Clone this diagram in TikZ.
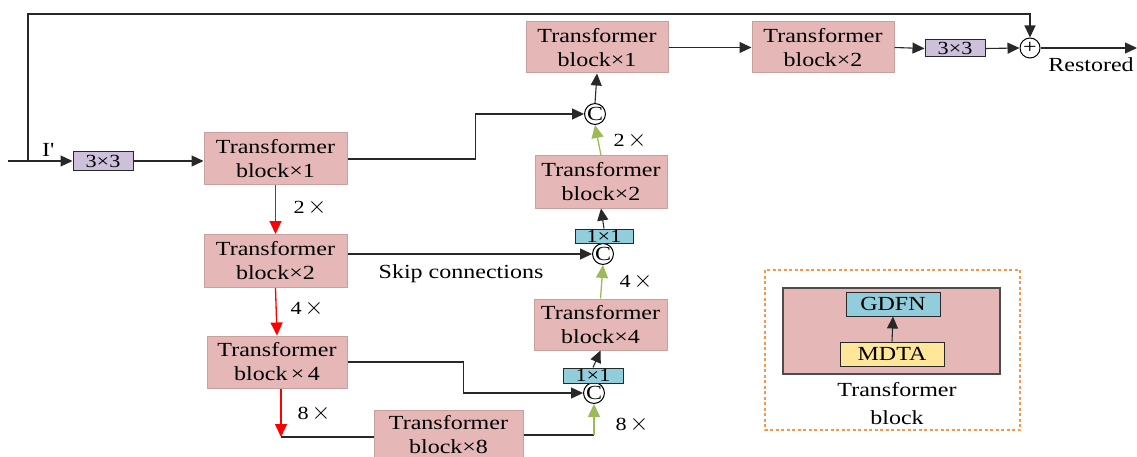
\documentclass[tikz,border=0pt]{standalone}
\usepackage{fontspec}
\setmainfont{Liberation Serif}[FakeStretch=1.2]
\usetikzlibrary{arrows.meta,calc}
\definecolor{pinkc}{RGB}{229,184,183}
\definecolor{pinkd}{RGB}{200,160,158}
\definecolor{bluec}{RGB}{146,205,220}
\definecolor{yelc}{RGB}{255,230,153}
\definecolor{lavc}{RGB}{204,192,218}
\definecolor{greenc}{RGB}{155,187,89}
\definecolor{orangec}{RGB}{247,150,70}
\definecolor{linec}{RGB}{40,40,40}
\newcommand\fbig{\fontsize{20}{24}\selectfont}
\newcommand\fsm{\fontsize{18.5}{20}\selectfont}
\newcommand\fcc{\fontsize{20}{20}\selectfont}
\newcommand\bigx{\,\scalebox{1.4}{$\times$}}
\begin{document}
\begin{tikzpicture}[x=1pt,y=-1pt,
  line width=1.1pt,
  tb/.style={rectangle, fill=pinkc, draw=pinkd, line width=1pt, align=center, font=\fbig, inner sep=0pt, minimum width=143pt, minimum height=52pt},
  kbox/.style={rectangle, fill=lavc, draw=linec, line width=1pt, font=\fsm, inner sep=0pt, minimum width=60pt, minimum height=19pt},
  obox/.style={rectangle, fill=bluec, draw=linec, line width=1pt, font=\fsm, inner sep=0pt, minimum width=58pt, minimum height=14pt},
  cc/.style={circle, draw=black, fill=white, line width=1pt, inner sep=0pt, minimum size=18pt, font=\fcc},
  arr/.style={draw=linec, -{Triangle[length=12pt,width=11pt]}},
  rarr/.style={draw=red, line width=1.3pt, -{Triangle[length=13pt,width=12pt]}},
  garr/.style={draw=greenc, line width=1.3pt, -{Triangle[length=13pt,width=12pt]}},
  lbl/.style={font=\fbig, inner sep=0pt},
  xl/.style={font=\fsm, inner sep=0pt},
]
\useasboundingbox (0,0) rectangle (1137,457);

% nodes
\coordinate (in) at (8,161);
\coordinate (sk0) at (28,161);
\coordinate (sk1) at (28,14);
\node[kbox] (k1) at (103,161) {3×3};
\node[tb] (tb1) at (275.5,159) {Transformer\\block×1};
\node[tb, minimum height=53pt] (tb2) at (275.5,261) {Transformer\\block×2};
\node[tb, minimum width=140pt] (tb4) at (277,362) {Transformer\\block\,×\,4};
\node[tb, minimum width=149pt, minimum height=50pt] (tb8) at (448.5,435) {Transformer\\block×8};
\node[tb, minimum width=133pt, minimum height=51pt] (tb4u) at (600.5,324.5) {Transformer\\block×4};
\node[tb, minimum width=132pt] (tb2u) at (601,182) {Transformer\\block×2};
\node[tb, minimum width=142pt, minimum height=51pt] (tbu1) at (597,47.5) {Transformer\\block×1};
\node[tb, minimum width=142pt, minimum height=51pt] (tbo2) at (823,47.5) {Transformer\\block×2};
\node[kbox, minimum height=17pt] (k2) at (955,48.5) {3×3};
\node[cc, minimum size=20pt] (plus) at (1030,48) {+};
\coordinate (out) at (1137,48);
\node[cc] (c1) at (595,114) {C};
\node[cc] (c2) at (603,254) {C};
\node[cc] (c3) at (594,393) {C};
\node[obox] (o1) at (604,236) {1×1};
\node[obox, minimum width=60pt, minimum height=15pt] (o2) at (593,375.5) {1×1};
\coordinate (r8) at (281,437);

% connectors
\draw[arr] (in) -- (k1.west);
\draw[arr] (k1) -- (tb1.west |- k1);
\draw[arr] (sk0) -- (sk1) -| (plus.north);
\draw[arr] (tb1.east) -- ++(128,0) |- (c1.west);
\draw[arr] (c1.north) -- (tbu1.south);
\draw[garr] (tb2u.north) -- (c1.south);
\draw[arr] (o1.north) -- (tb2u.south);
\draw[arr] (tb2.east |- c2.west) -- (c2.west);
\draw[garr] (tb4u.north) -- (c2.south);
\draw[arr] (o2.north) -- (tb4u.south);
\draw[arr] (tb4.east) -- ++(116,0) |- (c3.west);
\draw[draw=linec] (tb8.east) -- (c3.south |- tb8.east);
\draw[garr] (c3.south |- tb8.east) -- (c3.south);
\draw[rarr] (tb1.south) -- (tb2.north);
\draw[rarr] (tb2.south) -- (tb4.north);
\draw[rarr] (tb4.south -| r8) -- (r8);
\draw[draw=linec] (r8) -- (tb8.west |- r8);
\draw[arr] (tbu1.east) -- (tbo2.west);
\draw[arr] (tbo2.east) -- (k2.west);
\draw[arr] (k2.east) -- (plus.west);
\draw[arr] (plus.east) -- (out);

% labels
\node[lbl] (li) at (48,150) {I\textquotesingle};
\node[xl] (l2a) at (310,207) {2\bigx};
\node[xl] (l4a) at (307,308) {4\bigx};
\node[xl] (l8a) at (314,413) {8\bigx};
\node[xl] (l2b) at (630,140) {2\bigx};
\node[xl] (l4b) at (636,281) {4\bigx};
\node[xl] (l8b) at (632,424) {8\bigx};
\node[lbl] (skip) at (461,274) {Skip connections};
\node[lbl] (rest) at (1091,65) {Restored};

% legend
\draw[draw=orangec, line width=1.1pt, dash pattern=on 3pt off 2.5pt] (765,270) rectangle (1020,430);
\node[rectangle, fill=pinkc, draw=black!70, line width=2.5pt, minimum width=217pt, minimum height=86pt, inner sep=0pt] (lg) at (891.5,331) {};
\node[rectangle, fill=bluec, draw=linec, line width=1pt, minimum width=94pt, minimum height=24pt, inner sep=0pt, font=\fontsize{20}{22}\selectfont] (gdfn) at (893,304) {GDFN};
\node[rectangle, fill=yelc, draw=linec, line width=1pt, minimum width=104pt, minimum height=24pt, inner sep=0pt, font=\fontsize{20}{22}\selectfont] (mdta) at (892,354) {MDTA};
\draw[arr] (mdta.north) -- (gdfn.south);
\node[lbl, align=center, font=\fontsize{20}{28}\selectfont] (lgt) at (897,404) {Transformer\\block};
\end{tikzpicture}
\end{document}
